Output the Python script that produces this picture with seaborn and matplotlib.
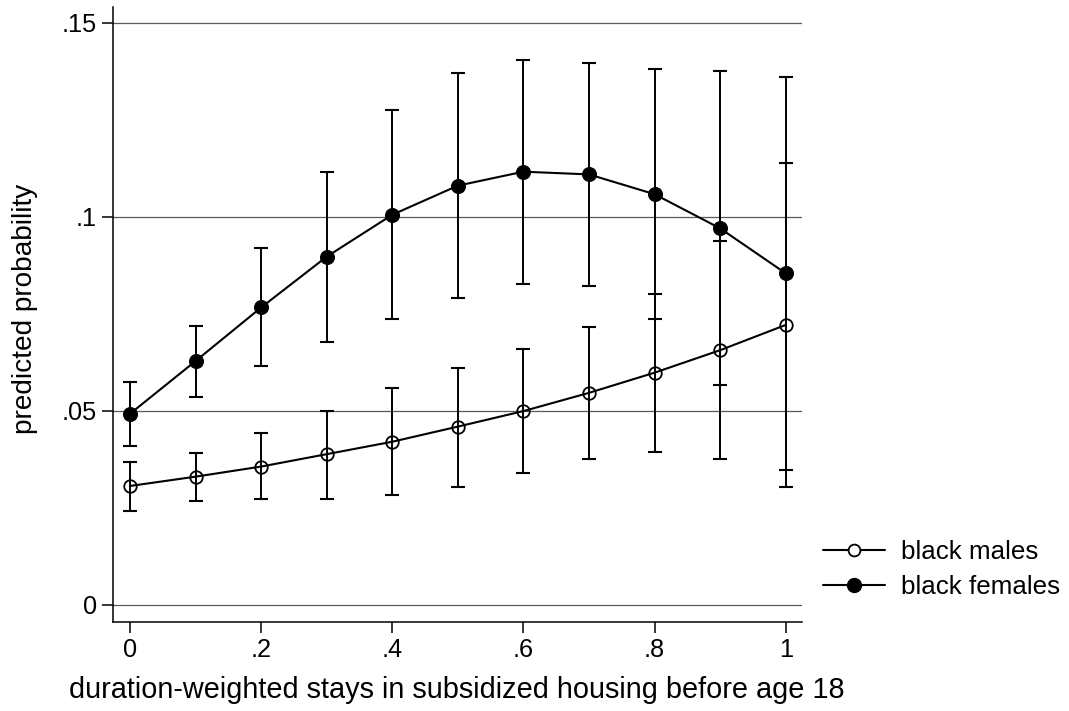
import numpy as np
import pandas as pd
import matplotlib
matplotlib.use("Agg")
import matplotlib.pyplot as plt
import seaborn as sns
from matplotlib.lines import Line2D

x_vals = [0, .1, .2, .3, .4, .5, .6, .7, .8, .9, 1.0]
male_pred = [0.0306, 0.0330, 0.0356, 0.0388, 0.0420, 0.0459, 0.0499, 0.0546, 0.0598, 0.0656, 0.0721]
male_lo = [0.0242, 0.0268, 0.0272, 0.0273, 0.0283, 0.0304, 0.0339, 0.0375, 0.0394, 0.0375, 0.0304]
male_hi = [0.0368, 0.0391, 0.0442, 0.0500, 0.0558, 0.0609, 0.0659, 0.0717, 0.0801, 0.0937, 0.1138]
female_pred = [0.0492, 0.0628, 0.0766, 0.0897, 0.1005, 0.1080, 0.1116, 0.1109, 0.1058, 0.0970, 0.0854]
female_lo = [0.0409, 0.0535, 0.0615, 0.0678, 0.0736, 0.0790, 0.0827, 0.0822, 0.0736, 0.0566, 0.0347]
female_hi = [0.0573, 0.0719, 0.0919, 0.1115, 0.1275, 0.1371, 0.1404, 0.1395, 0.1380, 0.1375, 0.1360]
series = ["black males", "black females"]
x_ticks = [0, .2, .4, .6, .8, 1]
x_ticklabels = ["0", ".2", ".4", ".6", ".8", "1"]
y_ticks = [0, .05, .1, .15]
y_ticklabels = ["0", ".05", ".1", ".15"]

df = pd.DataFrame({
    "x": x_vals * 2,
    "y": male_pred + female_pred,
    "lo": male_lo + female_lo,
    "hi": male_hi + female_hi,
    "group": [series[0]] * len(x_vals) + [series[1]] * len(x_vals),
})

sns.set_style("white")
plt.rcParams["font.family"] = ["Liberation Sans", "DejaVu Sans"]
plt.rcParams["text.color"] = "black"
plt.rcParams["axes.labelcolor"] = "black"

W, H = 1069, 711
L, R, T, B = 112.5, 801.7, 7, 622
fig = plt.figure(figsize=(W / 100, H / 100), dpi=100)
ax = fig.add_axes([L / W, 1 - B / H, (R - L) / W, (B - T) / H])

for y in y_ticks:
    ax.axhline(y, color="#5a5a5a", lw=0.9, zorder=0)

# confidence interval bars
for g in series:
    d = df[df.group == g]
    ax.errorbar(d.x, d.y, yerr=[d.y - d.lo, d.hi - d.y], fmt="none",
                ecolor="black", elinewidth=1.4, capsize=4.7, capthick=1.5, zorder=2)

sns.lineplot(data=df[df.group == series[0]], x="x", y="y", ax=ax, color="black",
             lw=1.5, marker="o", markersize=9, markerfacecolor="none",
             markeredgecolor="black", markeredgewidth=1.3, legend=False, zorder=3)
sns.lineplot(data=df[df.group == series[1]], x="x", y="y", ax=ax, color="black",
             lw=1.5, marker="o", markersize=10, markerfacecolor="black",
             markeredgecolor="black", markeredgewidth=0.8, legend=False, zorder=3)

x0px, x1px = 130, 785.7
ppu = x1px - x0px
ax.set_xlim((L - x0px) / ppu, (R - x0px) / ppu)
y0px, ppy = 604.7, 3880
ax.set_ylim((y0px - B) / ppy, (y0px - T) / ppy)
ax.set_xticks(x_ticks)
ax.set_xticklabels(x_ticklabels)
ax.set_yticks(y_ticks)
ax.set_yticklabels(y_ticklabels)
ax.tick_params(axis="both", which="major", direction="out", length=7.8, width=1.1,
               colors="black", labelsize=18.3, bottom=True, left=True, pad=3.5)
for s in ["top", "right"]:
    ax.spines[s].set_visible(False)
for s in ["left", "bottom"]:
    ax.spines[s].set_color("black")
    ax.spines[s].set_linewidth(1.1)

ax.set_xlabel("duration-weighted stays in subsidized housing before age 18",
              fontsize=20.8, va="center", ha="center")
ax.xaxis.set_label_coords(0.5, (B - 690) / (B - T))
ax.set_ylabel("predicted probability", fontsize=20.2, va="center", ha="center")
ax.yaxis.set_label_coords((25 - L) / (R - L), (B - 309) / (B - T))

handles = [
    Line2D([0], [0], color="black", lw=1.5, marker="o", markersize=8.5,
           markerfacecolor="white", markeredgecolor="black", markeredgewidth=1.3),
    Line2D([0], [0], color="black", lw=1.5, marker="o", markersize=10,
           markerfacecolor="black", markeredgecolor="black"),
]
fig.legend(handles, series, loc="center left", bbox_to_anchor=(823 / W, 1 - 569.5 / H),
           frameon=False, fontsize=18.7, handlelength=2.4, handletextpad=0.62,
           labelspacing=0.45, borderpad=0, borderaxespad=0)

fig.savefig("out.png", dpi=100, facecolor="white")
